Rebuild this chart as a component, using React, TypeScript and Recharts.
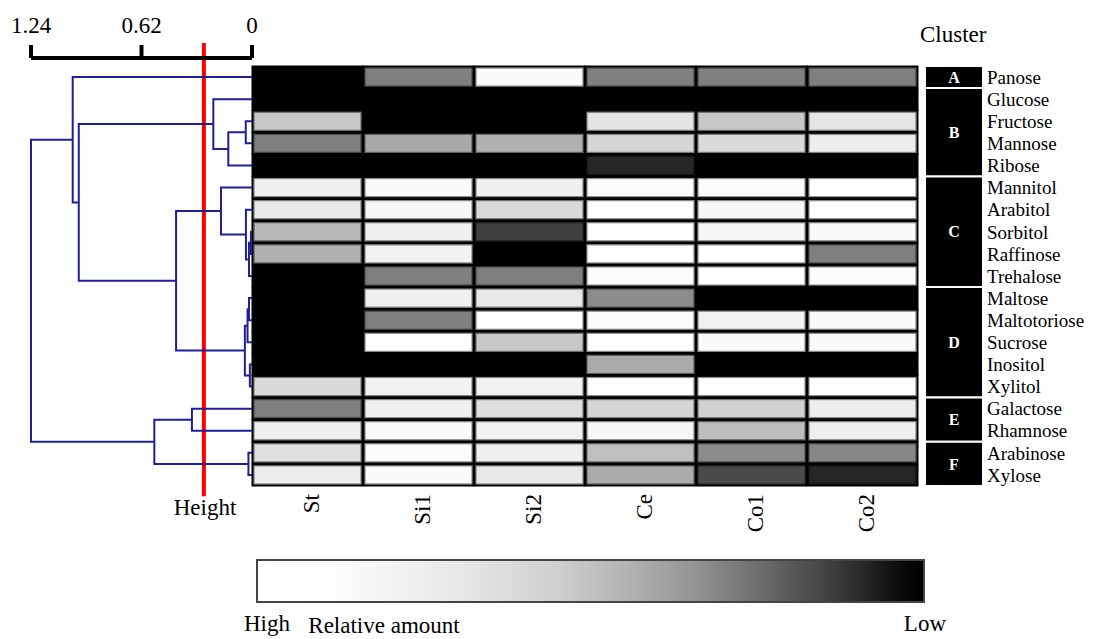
import React from "react";
import { ScatterChart, Scatter, XAxis, YAxis, ReferenceLine, ReferenceArea } from "recharts";

const FONT = '"Liberation Serif", "Times New Roman", serif';

const SUGARS = [
  "Panose", "Glucose", "Fructose", "Mannose", "Ribose", "Mannitol", "Arabitol",
  "Sorbitol", "Raffinose", "Trehalose", "Maltose", "Maltotoriose", "Sucrose",
  "Inositol", "Xylitol", "Galactose", "Rhamnose", "Arabinose", "Xylose",
];
const SAMPLES = ["St", "Si1", "Si2", "Ce", "Co1", "Co2"];

// relative amount per sample (100 = high / white, 0 = low / black), rows follow SUGARS
const ST  = [0, 0, 78, 50, 0, 94, 91, 73, 69, 0, 0, 0, 0, 0, 86, 50, 94, 88, 93];
const SI1 = [50, 0, 0, 66, 0, 98, 97, 94, 95, 50, 94, 50, 100, 0, 95, 94, 98, 99, 98];
const SI2 = [98, 0, 0, 69, 0, 94, 85, 25, 0, 50, 91, 100, 78, 0, 95, 87, 95, 94, 91];
const CE  = [50, 0, 89, 84, 15, 99, 100, 100, 100, 99, 55, 99, 100, 67, 100, 84, 97, 75, 67];
const CO1 = [50, 0, 78, 85, 0, 99, 97, 97, 100, 100, 0, 95, 98, 0, 100, 82, 74, 55, 29];
const CO2 = [50, 0, 90, 93, 0, 100, 100, 98, 50, 99, 0, 98, 98, 0, 100, 93, 94, 53, 15];
const SERIES = [ST, SI1, SI2, CE, CO1, CO2];

const CLUSTERS = ["A", "B", "C", "D", "E", "F"];
const CLUSTER_SIZE = [1, 4, 5, 5, 2, 2];

// linkage: [left, right, height]; ids < 19 are leaves, 19 + k is merge k
const MERGES: [number, number, number][] = [
  [7, 8, 0.006],
  [19, 9, 0.017],
  [6, 20, 0.034],
  [5, 21, 0.174],
  [10, 11, 0.017],
  [23, 12, 0.025],
  [13, 14, 0.012],
  [24, 25, 0.04],
  [22, 26, 0.426],
  [2, 3, 0.035],
  [28, 4, 0.133],
  [1, 29, 0.217],
  [30, 27, 0.972],
  [0, 31, 1.006],
  [15, 16, 0.337],
  [17, 18, 0.02],
  [33, 34, 0.548],
  [32, 35, 1.24],
];
const DIST_TICKS = [1.24, 0.62, 0];
const CUT_HEIGHT = 0.27;

const N = SUGARS.length;
const ROW_DOMAIN: [number, number] = [-0.5, N - 0.5];
const ROW_TICKS = SUGARS.map((_, i) => i);
const COL_TICKS = SAMPLES.map((_, i) => i);

// heatmap plot box
const HM_LEFT = 252, HM_TOP = 66, HM_W = 666, HM_H = 420;
const CELL_W = HM_W / SAMPLES.length;
const ROW_H = HM_H / N;

const cells = SERIES.flatMap((vals, c) => vals.map((v, r) => ({ c, r, v })));
const rowAnchors = SUGARS.map((name, r) => ({ x: 1, r, name }));

const nodeR: number[] = SUGARS.map((_, i) => i);
const nodeD: number[] = SUGARS.map(() => 0);
const links = MERGES.map(([a, b, h]) => {
  const pts = [
    { d: nodeD[a], r: nodeR[a] },
    { d: h, r: nodeR[a] },
    { d: h, r: nodeR[b] },
    { d: nodeD[b], r: nodeR[b] },
  ];
  nodeR.push((nodeR[a] + nodeR[b]) / 2);
  nodeD.push(h);
  return pts;
});

let acc = 0;
const clusterSpans = CLUSTERS.map((name, i) => {
  const start = acc;
  acc += CLUSTER_SIZE[i];
  return { name, y1: start - 0.5, y2: acc - 0.5 };
});

const gray = (v: number, k = 1) => {
  const g = Math.round(v * 2.55 * k);
  return `rgb(${g},${g},${g})`;
};

const HeatCell = ({ cx, cy, payload }: any) => (
  <g>
    <rect x={cx - CELL_W / 2 - 0.5} y={cy - ROW_H / 2 - 0.5} width={CELL_W + 1} height={ROW_H + 1} fill="#000" />
    <rect
      x={cx - CELL_W / 2 + 2}
      y={cy - ROW_H / 2 + 2}
      width={CELL_W - 4}
      height={ROW_H - 4}
      fill={gray(payload.v)}
      stroke={gray(payload.v, 0.55)}
      strokeWidth={1.2}
    />
  </g>
);

const SampleTick = ({ x, y, payload }: any) => (
  <text
    x={x}
    y={y}
    transform={`rotate(-90 ${x} ${y})`}
    textAnchor="end"
    dy="0.5em"
    fontSize={23}
    fontFamily={FONT}
    fill="#000"
  >
    {SAMPLES[payload.value]}
  </text>
);

const noDot = () => <g />;

export default function App() {
  const layer: React.CSSProperties = { position: "absolute", left: 0, top: 0 };
  return (
    <div style={{ position: "absolute", left: 0, top: 0, width: 1101, height: 639, background: "#fff", fontFamily: FONT }}>
      {/* heatmap */}
      <div style={layer}>
        <ScatterChart width={930} height={639} margin={{ top: HM_TOP, right: 930 - HM_LEFT - HM_W, bottom: 53, left: HM_LEFT }}>
          <XAxis
            type="number"
            dataKey="c"
            domain={[-0.5, SAMPLES.length - 0.5]}
            ticks={COL_TICKS}
            interval={0}
            height={100}
            axisLine={false}
            tickLine={false}
            tickSize={0}
            tickMargin={8}
            tick={<SampleTick />}
          />
          <YAxis type="number" dataKey="r" domain={ROW_DOMAIN} reversed hide />
          <Scatter data={cells} shape={<HeatCell />} isAnimationActive={false} />
        </ScatterChart>
      </div>

      {/* dendrogram */}
      <div style={layer}>
        <ScatterChart width={262} height={639} margin={{ top: 18, right: 10, bottom: 153, left: 31 }}>
          <XAxis
            type="number"
            dataKey="d"
            orientation="top"
            domain={[0, 1.24]}
            reversed
            ticks={DIST_TICKS}
            interval={0}
            height={40}
            tickSize={13}
            tickMargin={12}
            axisLine={{ stroke: "#000", strokeWidth: 4 }}
            tickLine={{ stroke: "#000", strokeWidth: 4 }}
            tick={{ fill: "#000", fontSize: 23, fontFamily: FONT }}
          />
          <YAxis type="number" dataKey="r" domain={ROW_DOMAIN} reversed hide padding={{ top: 8, bottom: 0 }} />
          {links.map((pts, i) => (
            <Scatter
              key={i}
              data={pts}
              line={{ stroke: "#1f1f99", strokeWidth: 2 }}
              lineType="joint"
              shape={noDot}
              isAnimationActive={false}
            />
          ))}
          <ReferenceLine
            segment={[{ x: CUT_HEIGHT, y: -1.54 }, { x: CUT_HEIGHT, y: 18.96 }]}
            stroke="#ff0000"
            strokeWidth={4}
            ifOverflow="visible"
          />
        </ScatterChart>
      </div>

      {/* clusters + sugar names */}
      <div style={layer}>
        <ScatterChart width={1101} height={639} margin={{ top: HM_TOP, right: 0, bottom: 153, left: 925 }}>
          <XAxis type="number" dataKey="x" domain={[0, 1]} hide />
          <YAxis
            type="number"
            dataKey="r"
            orientation="right"
            domain={ROW_DOMAIN}
            reversed
            ticks={ROW_TICKS}
            interval={0}
            width={118}
            axisLine={false}
            tickLine={false}
            tickSize={0}
            tickMargin={4}
            tickFormatter={(i: number) => SUGARS[i]}
            tick={{ fill: "#000", fontSize: 19, fontFamily: FONT }}
          />
          {clusterSpans.map((s) => (
            <ReferenceArea
              key={s.name}
              x1={0}
              x2={1}
              y1={s.y1}
              y2={s.y2}
              fill="#000"
              fillOpacity={1}
              stroke="#fff"
              strokeWidth={2}
              ifOverflow="visible"
              label={{ value: s.name, position: "center", fill: "#fff", fontSize: 16, fontWeight: "bold", fontFamily: FONT }}
            />
          ))}
          <Scatter data={rowAnchors} shape={noDot} isAnimationActive={false} />
        </ScatterChart>
      </div>

      {/* titles and colour key */}
      <svg style={layer} width={1101} height={639} fontFamily={FONT}>
        <defs>
          <linearGradient id="amountGrad" x1="0" y1="0" x2="1" y2="0">
            <stop offset="0" stopColor="#ffffff" />
            <stop offset="0.12" stopColor="#fcfcfc" />
            <stop offset="0.3" stopColor="#e8e8e8" />
            <stop offset="0.45" stopColor="#cfcfcf" />
            <stop offset="0.55" stopColor="#b4b4b4" />
            <stop offset="0.65" stopColor="#969696" />
            <stop offset="0.75" stopColor="#6e6e6e" />
            <stop offset="0.85" stopColor="#444444" />
            <stop offset="0.92" stopColor="#222222" />
            <stop offset="0.97" stopColor="#080808" />
            <stop offset="1" stopColor="#000000" />
          </linearGradient>
        </defs>
        <text x={920} y={42} fontSize={23} fill="#000">Cluster</text>
        <text x={205} y={515} fontSize={23} fill="#000" textAnchor="middle">Height</text>
        <rect x={257} y={560} width={667} height={42} fill="url(#amountGrad)" stroke="#444" strokeWidth={2} />
        <text x={244} y={631} fontSize={23} fill="#000">High</text>
        <text x={384} y={633} fontSize={23} fill="#000" textAnchor="middle">Relative amount</text>
        <text x={946} y={631} fontSize={23} fill="#000" textAnchor="end">Low</text>
      </svg>
    </div>
  );
}
